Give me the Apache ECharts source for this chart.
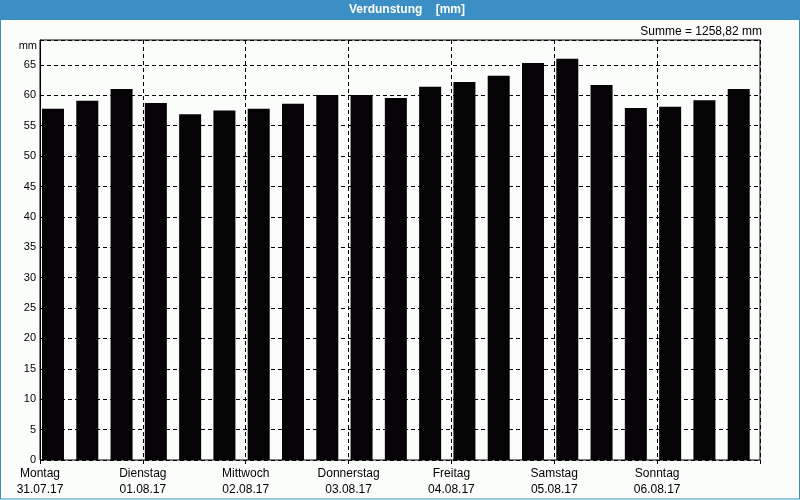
<!DOCTYPE html>
<html>
<head>
<meta charset="utf-8">
<script src="https://cdn.jsdelivr.net/npm/echarts@6/dist/echarts.min.js"></script>
<style>
html,body{margin:0;padding:0;background:#fbfdfb;}
#c{width:800px;height:500px;}
</style>
</head>
<body>
<div id="c"></div>
<script>
var days = ['Montag', 'Dienstag', 'Mittwoch', 'Donnerstag', 'Freitag', 'Samstag', 'Sonntag'];
var dates = ['31.07.17', '01.08.17', '02.08.17', '03.08.17', '04.08.17', '05.08.17', '06.08.17'];
var slots = ['1','2','3','4','5','6','7','8','9','10','11','12','13','14','15','16','17','18','19','20','21'];
var values = [57.8, 59.1, 61.05, 58.75, 56.9, 57.5, 57.8, 58.6, 60.07, 60.07, 59.57, 61.4, 62.2, 63.2, 65.3, 66.0, 61.7, 57.9, 58.1, 59.2, 61.05];
var titleText = 'Verdunstung    [mm]';
var sumText = 'Summe = 1258,82 mm';
var unitText = 'mm';

var FONT = 'Liberation Sans';
var chart = echarts.init(document.getElementById('c'), null, {renderer: 'canvas'});
var dash = [4, 3];
chart.setOption({
  backgroundColor: '#fbfdfb',
  animation: false,
  textStyle: {fontFamily: FONT},
  grid: {left: 40, top: 40, right: 40, bottom: 40, show: true, borderColor: '#000', borderWidth: 1, backgroundColor: 'transparent'},
  graphic: [
    {type: 'rect', shape: {x: 0, y: 0, width: 800, height: 20}, style: {fill: '#3b8fc4'}, z: 10},
    {type: 'rect', shape: {x: 0.5, y: 0.5, width: 799, height: 498.5}, style: {fill: 'none', stroke: '#3b8fc4', lineWidth: 1}, z: 10},
    {type: 'text', x: 407, y: 10, style: {text: titleText, fill: '#fff', font: 'bold 12px "' + FONT + '"', textAlign: 'center', textVerticalAlign: 'middle'}, z: 11},
    {type: 'text', x: 762, y: 32, style: {text: sumText, fill: '#000', font: '12px "' + FONT + '"', textAlign: 'right', textVerticalAlign: 'middle'}, z: 11},
    {type: 'text', x: 37, y: 46, style: {text: unitText, fill: '#000', font: '11px "' + FONT + '"', textAlign: 'right', textVerticalAlign: 'middle'}, z: 11}
  ],
  xAxis: [
    {type: 'category', data: slots, show: false, boundaryGap: true},
    {type: 'value', min: 0, max: 21, interval: 3, position: 'bottom',
     axisLine: {show: false},
     axisTick: {show: true, length: 4, lineStyle: {color: '#000'}},
     splitLine: {show: true, lineStyle: {color: '#000', type: dash, width: 1}},
     axisLabel: {
       show: true, margin: 6, color: '#000', fontSize: 12, fontFamily: FONT, lineHeight: 16,
       formatter: function (v) { var i = Math.round(v / 3); return i < days.length ? days[i] + '\n' + dates[i] : ''; }
     }}
  ],
  yAxis: {
    type: 'value', min: 0, max: 69.1, interval: 5,
    axisLine: {show: true, lineStyle: {color: '#000'}},
    axisTick: {show: false},
    splitLine: {show: true, lineStyle: {color: '#000', type: dash, width: 1}},
    axisLabel: {margin: 4, color: '#000', fontSize: 11, fontFamily: FONT,
      formatter: function (v) { return v > 66 ? '' : String(v); }}
  },
  series: [
    {type: 'bar', xAxisIndex: 0, data: values, barWidth: 22, barGap: '0%', itemStyle: {color: '#050306'}, z: 3},
    {type: 'bar', xAxisIndex: 0, data: [], barWidth: 8.3, barGap: '0%'}
  ]
});
</script>
</body>
</html>
